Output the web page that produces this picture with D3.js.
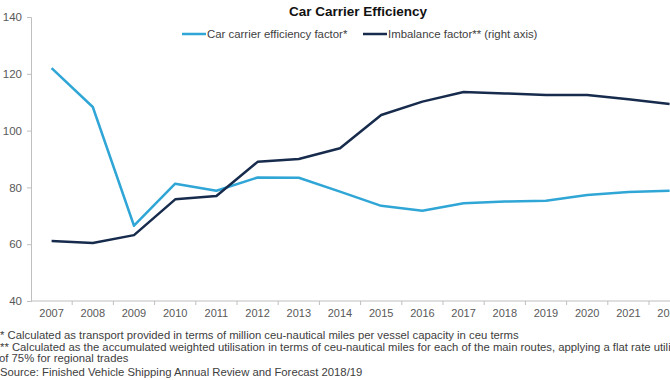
<!DOCTYPE html>
<html>
<head>
<meta charset="utf-8">
<script src="https://cdn.jsdelivr.net/npm/d3@7"></script>
<style>
  body { margin: 0; background: #fff; }
  svg { display: block; font-family: "Liberation Sans", Arial, sans-serif; }
</style>
</head>
<body>
<svg id="chart" width="670" height="380"></svg>
<script>
var years = ["2007", "2008", "2009", "2010", "2011", "2012", "2013", "2014", "2015", "2016", "2017", "2018", "2019", "2020", "2021", "2022"];
var efficiency = [122, 108.3, 66.5, 81.3, 78.8, 83.5, 83.4, 78.5, 73.5, 71.8, 74.4, 75, 75.3, 77.3, 78.4, 78.8];
var imbalance = [61.1, 60.4, 63.2, 75.8, 77, 89, 90, 93.8, 105.5, 110.2, 113.6, 113.1, 112.5, 112.5, 111, 109.4];
var yTicks = [40, 60, 80, 100, 120, 140];
var footnotes = [
    "* Calculated as transport provided in terms of million ceu-nautical miles per vessel capacity in ceu terms",
    "** Calculated as the accumulated weighted utilisation in terms of ceu-nautical miles for each of the main routes, applying a flat rate utilisation",
    "of 75% for regional trades",
    "Source: Finished Vehicle Shipping Annual Review and Forecast 2018/19"
];

var svg = d3.select("#chart"),
    margin = {top: 17, left: 31, bottom: 79},
    height = +svg.attr("height") - margin.top - margin.bottom;

var lightBlue = "#2fa6d6",
    darkBlue = "#172b4d",
    axisGrey = "#bfbfbf",
    textGrey = "#595959";

// the picture is cut off on the right, so the plot runs past the svg edge
var x = d3.scaleBand()
    .domain(years)
    .range([margin.left, margin.left + 41.2 * years.length]);

var y = d3.scaleLinear()
    .domain([40, 140])
    .range([margin.top + height, margin.top]);

// right axis is outside the visible area; same span as left
var y2 = d3.scaleLinear()
    .domain([40, 140])
    .range([margin.top + height, margin.top]);

// y axis
var yAxis = svg.append("g")
    .attr("transform", "translate(" + margin.left + ",0)")
    .call(d3.axisLeft(y).tickValues(yTicks).tickSize(4).tickPadding(5));
yAxis.select(".domain").attr("stroke", axisGrey);
yAxis.selectAll(".tick line").attr("stroke", axisGrey);
yAxis.selectAll(".tick text").attr("fill", textGrey).style("font-size", "11.5px");

// x axis, ticks on band edges
var xAxis = svg.append("g")
    .attr("transform", "translate(0," + (margin.top + height) + ")");
xAxis.append("line")
    .attr("x1", margin.left).attr("x2", 670)
    .attr("stroke", axisGrey);
xAxis.selectAll(".edge")
    .data(years)
    .enter().append("line")
    .attr("class", "edge")
    .attr("x1", function(d) { return x(d) + x.bandwidth(); })
    .attr("x2", function(d) { return x(d) + x.bandwidth(); })
    .attr("y1", 0).attr("y2", 4)
    .attr("stroke", axisGrey);
xAxis.selectAll(".lbl")
    .data(years)
    .enter().append("text")
    .attr("class", "lbl")
    .attr("x", function(d) { return x(d) + x.bandwidth() / 2; })
    .attr("y", 16)
    .attr("text-anchor", "middle")
    .attr("fill", textGrey)
    .style("font-size", "11px")
    .text(function(d) { return d; });

var lineLeft = d3.line()
    .x(function(d, i) { return x(years[i]) + x.bandwidth() / 2; })
    .y(function(d) { return y(d); });

var lineRight = d3.line()
    .x(function(d, i) { return x(years[i]) + x.bandwidth() / 2; })
    .y(function(d) { return y2(d); });

svg.append("path")
    .datum(efficiency)
    .attr("fill", "none")
    .attr("stroke", lightBlue)
    .attr("stroke-width", 2.5)
    .attr("stroke-linejoin", "round")
    .attr("d", lineLeft);

svg.append("path")
    .datum(imbalance)
    .attr("fill", "none")
    .attr("stroke", darkBlue)
    .attr("stroke-width", 2.5)
    .attr("stroke-linejoin", "round")
    .attr("d", lineRight);

// title
svg.append("text")
    .attr("x", 358)
    .attr("y", 16)
    .attr("text-anchor", "middle")
    .attr("font-weight", "bold")
    .attr("fill", "#111")
    .style("font-size", "13.5px")
    .text("Car Carrier Efficiency");

// legend
var legendItems = [
    {name: "Car carrier efficiency factor*", colour: lightBlue, x: 182},
    {name: "Imbalance factor** (right axis)", colour: darkBlue, x: 363}
];
var legend = svg.selectAll(".legend")
    .data(legendItems)
    .enter().append("g")
    .attr("class", "legend")
    .attr("transform", function(d) { return "translate(" + d.x + ",34)"; });
legend.append("line")
    .attr("x1", 0).attr("x2", 24)
    .attr("stroke", function(d) { return d.colour; })
    .attr("stroke-width", 2.5);
legend.append("text")
    .attr("x", 25)
    .attr("y", 4)
    .attr("fill", "#404040")
    .style("font-size", "11.4px")
    .text(function(d) { return d.name; });

// footnotes
svg.selectAll(".note")
    .data(footnotes)
    .enter().append("text")
    .attr("class", "note")
    .attr("x", function(d, i) { return i == 2 ? -1 : 0; })
    .attr("y", function(d, i) { return [339, 351, 362, 376][i]; })
    .attr("fill", "#404040")
    .style("font-size", "11.3px")
    .text(function(d) { return d; });
</script>
</body>
</html>
